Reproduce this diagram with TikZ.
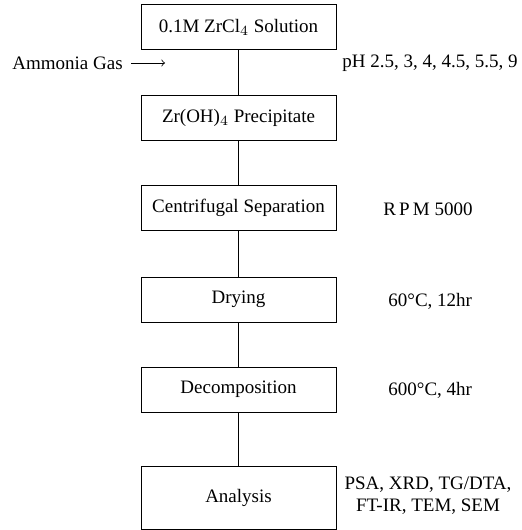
\documentclass[tikz,border=0pt]{standalone}
\usepackage{fontspec}
\setmainfont{Liberation Serif}
\usetikzlibrary{arrows}
\usetikzlibrary{positioning}
\tikzset{stepbox/.style = {draw, line width = 0.5pt, minimum width = 97.5pt, minimum height = 22.5pt, inner sep = 0}}
\tikzset{note/.style = {anchor = west, inner sep = 0}}

\begin{document}
\begin{tikzpicture}[x = 0.5pt, y = -0.5pt, font = \fontsize{9.5}{11}\selectfont]
      \useasboundingbox (0, 0) rectangle (522, 530);

      \node [stepbox] (zrcl) at (238.5, 27) {0.1M ZrCl$_4$ Solution};
      \node [stepbox] (zroh) at (238.5, 118) {Zr(OH)$_4$ Precipitate};
      \node [stepbox] (centri) at (238.5, 207.5) {Centrifugal Separation};
      \node [stepbox] (dry) at (238.5, 299.5) {Drying};
      \node [stepbox] (decomp) at (238.5, 389.5) {Decomposition};
      \node [stepbox, minimum height = 31.5pt] (analysis) at (238.5, 497.5) {Analysis};

      \draw [line width = 0.5pt] (zrcl) -- (zroh);
      \draw [line width = 0.5pt] (zroh) -- (centri);
      \draw [line width = 0.5pt] (centri) -- (dry);
      \draw [line width = 0.5pt] (dry) -- (decomp);
      \draw [line width = 0.5pt] (decomp) -- (analysis);

      \node [note] (gas) at (12, 63) {Ammonia Gas};
      \coordinate (gasend) at (165, 63);
      \draw [->, line width = 0.4pt, shorten <= 4pt] (gas.east) -- (gasend);

      \node [note] (ph) at (342, 63) {pH 2.5, 3, 4, 4.5, 5.5, 9};
      \node [note] (rpm) at (383, 209) {R\,P\,M 5000};
      \node [note] (dry60) at (388, 301) {60\textdegree C, 12hr};
      \node [note] (calc600) at (388, 390) {600\textdegree C, 4hr};
      \node [align = center, inner sep = 0] (methods) at (428, 496) {PSA, XRD, TG/DTA,\\FT-IR, TEM, SEM};
    \end{tikzpicture}
\end{document}
